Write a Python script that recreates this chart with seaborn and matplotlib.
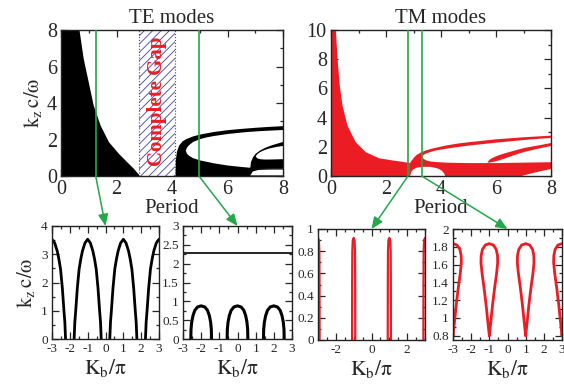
import numpy as np
import pandas as pd
import matplotlib.pyplot as plt
import seaborn as sns
from matplotlib.patches import ConnectionPatch
from matplotlib.ticker import MultipleLocator, FormatStrFormatter

# ---------------- TE band map (Period vs k_z c/w) ----------------
te_b1_x = [0, 0.65, 0.80, 0.98, 1.16, 1.41, 1.71, 2.07, 2.37, 2.61, 2.79, 2.85]
te_b1_top = [8, 8, 6.45, 5.17, 3.89, 2.79, 1.88, 1.24, 0.78, 0.42, 0.10, 0]

te_b2_x = [4.11, 4.12, 4.16, 4.24, 4.36, 4.5, 4.75, 5.0, 5.5, 6.0, 6.5, 7.0, 7.5, 8.0]
te_b2_top = [0, 0.9, 1.35, 1.7, 1.92, 2.05, 2.2, 2.3, 2.44, 2.54, 2.61, 2.67, 2.72, 2.76]

te_hole_x = [4.48, 4.52, 4.6, 4.75, 5.0, 5.25, 5.5, 6.0, 6.5, 6.8, 7.2, 7.6, 8.0]
te_hole_top = [1.42, 1.58, 1.72, 1.9, 2.05, 2.15, 2.22, 2.33, 2.41, 2.45, 2.49, 2.52, 2.55]
te_hole_bot = [1.42, 1.25, 1.13, 1.0, 0.88, 0.8, 0.72, 0.6, 0.52, 0.48, 0.45, 0.43, 0.42]

te_s2_x = [6.8, 6.83, 6.9, 7.0, 7.15, 7.35, 7.6, 8.0]
te_s2_top = [0.45, 0.8, 1.05, 1.25, 1.42, 1.58, 1.72, 1.9]
te_s2_bot = [0.45, 0.42, 0.42, 0.42, 0.42, 0.42, 0.42, 0.42]

te_s2hole_x = [7.0, 7.05, 7.15, 7.3, 7.5, 7.75, 8.0]
te_s2hole_top = [1.1, 1.22, 1.33, 1.44, 1.54, 1.62, 1.68]
te_s2hole_bot = [1.1, 1.0, 0.95, 0.93, 0.93, 0.94, 0.95]

te_gap_x = [6.8, 6.9, 7.1, 7.5, 8.0]
te_gap_lo = [0.06, 0.06, 0.06, 0.06, 0.06]
te_gap_hi = [0.06, 0.28, 0.36, 0.38, 0.38]

te_complete_gap = (2.81, 4.10)
te_cuts = [1.25, 4.97]

# ---------------- TM band map ----------------
tm_b1_x = [0, 0.16, 0.22, 0.30, 0.40, 0.58, 0.88, 1.25, 1.73, 2.22, 2.6, 2.85]
tm_b1_top = [10, 10, 8.06, 6.23, 4.86, 3.49, 2.35, 1.66, 1.25, 1.10, 1.0, 0.92]

tm_b2_x = [2.85, 2.9, 3.0, 3.1, 3.25, 3.45, 3.7, 4.16, 4.6, 5.0, 5.4, 6.0, 7.0, 8.0]
tm_b2_top = [0.92, 1.05, 1.3, 1.48, 1.65, 1.8, 1.93, 2.12, 2.26, 2.35, 2.43, 2.55, 2.69, 2.8]

tm_hole_x = [3.3, 3.35, 3.45, 3.6, 3.8, 4.16, 4.6, 5.0, 5.5, 6.0, 7.0, 8.0]
tm_hole_top = [1.35, 1.48, 1.58, 1.68, 1.78, 1.9, 2.02, 2.12, 2.22, 2.32, 2.5, 2.65]
tm_hole_bot = [1.35, 1.2, 1.1, 1.03, 0.99, 0.95, 0.93, 0.92, 0.92, 0.92, 0.95, 0.98]

tm_s2_x = [5.67, 5.72, 5.8, 5.95, 6.15, 6.4, 6.7, 7.0, 7.5, 8.0]
tm_s2_outer = [0.95, 1.1, 1.22, 1.36, 1.5, 1.64, 1.8, 1.95, 2.12, 2.3]
tm_s2_inner = [0.95, 0.95, 0.97, 1.03, 1.14, 1.3, 1.5, 1.68, 1.9, 2.1]

tm_dome_x = [2.86, 2.9, 2.98, 3.1, 3.3, 3.6, 3.85, 4.0, 4.1, 4.14]
tm_dome_top = [0, 0.32, 0.5, 0.6, 0.66, 0.66, 0.56, 0.42, 0.2, 0]

tm_wedge_x = [6.85, 7.2, 7.6, 8.0]
tm_wedge_top = [0, 0.18, 0.36, 0.52]

tm_cuts = [2.80, 3.30]

# ---------------- dispersion cuts (K_b/pi vs k_z c/w) ----------------
b1_arch_dx = [-0.76, -0.72, -0.67, -0.58, -0.48, -0.38, -0.29, -0.15, 0,
              0.15, 0.29, 0.38, 0.48, 0.58, 0.67, 0.72, 0.76]
b1_arch_y = [0, 0.6, 1.0, 1.8, 2.47, 2.85, 3.12, 3.4, 3.53,
             3.4, 3.12, 2.85, 2.47, 1.8, 1.0, 0.6, 0]
b1_centers = [-3, -1, 1, 3]

b2_arch_dx = [-0.57, -0.56, -0.52, -0.45, -0.35, -0.2, 0, 0.2, 0.35, 0.45, 0.52, 0.56, 0.57]
b2_arch_y = [0, 0.25, 0.45, 0.62, 0.76, 0.85, 0.88, 0.85, 0.76, 0.62, 0.45, 0.25, 0]
b2_centers = [-2, 0, 2]
b2_flat_x = [-3, 3]
b2_flat_y = [2.28, 2.28]

b3_spike_dx = [-0.09, -0.085, -0.075, -0.05, 0, 0.05, 0.075, 0.085, 0.09]
b3_spike_y = [0, 0.5, 0.8, 0.9, 0.92, 0.9, 0.8, 0.5, 0]
b3_centers = [-3, -1, 1, 3]

b4_loop_dx = [0, 0.08, 0.18, 0.3, 0.4, 0.46, 0.45, 0.38, 0.22, 0,
              -0.22, -0.38, -0.45, -0.46, -0.4, -0.3, -0.18, -0.08, 0]
b4_loop_y = [0.8, 0.95, 1.15, 1.35, 1.5, 1.62, 1.7, 1.77, 1.82, 1.835,
             1.82, 1.77, 1.7, 1.62, 1.5, 1.35, 1.15, 0.95, 0.8]
b4_centers = [-3, -1, 1, 3]

BLACK = '#000000'
RED = '#ec1c24'
GREEN = '#22a84a'
HATCH = '#4040a0'

sns.set_theme(style='ticks')
plt.rcParams['font.family'] = ['Liberation Serif', 'DejaVu Serif']
plt.rcParams['mathtext.fontset'] = 'stix'
plt.rcParams['axes.unicode_minus'] = False
plt.rcParams['hatch.linewidth'] = 0.6
plt.rcParams['axes.linewidth'] = 1.0

fig = plt.figure(figsize=(5.64, 3.88), dpi=100)
W, H = 564, 388


def add_ax(l, r, t, b):
    return fig.add_axes([l / W, (H - b) / H, (r - l) / W, (b - t) / H])


ax_te = add_ax(61, 283, 30, 176)
ax_tm = add_ax(331, 551, 30, 176)
ax_b1 = add_ax(52, 159, 226, 339)
ax_b2 = add_ax(183, 292, 226, 339)
ax_b3 = add_ax(318, 425, 229, 340)
ax_b4 = add_ax(453, 562, 229, 340)


def style(ax, size, major=5, minor=2.5):
    ax.tick_params(which='both', direction='in', top=True, right=True,
                   labelsize=size, pad=3, width=0.9)
    ax.tick_params(which='major', length=major)
    ax.tick_params(which='minor', length=minor)
    for s in ax.spines.values():
        s.set_color('#222222')


# ---- TE panel ----
ax = ax_te
ax.fill_between(te_b1_x, 0, te_b1_top, color=BLACK, lw=0)
ax.fill_between(te_b2_x, 0, te_b2_top, color=BLACK, lw=0)
ax.fill_between(te_hole_x, te_hole_bot, te_hole_top, color='white', lw=0)
ax.fill_between(te_s2_x, te_s2_bot, te_s2_top, color=BLACK, lw=0)
ax.fill_between(te_s2hole_x, te_s2hole_bot, te_s2hole_top, color='white', lw=0)
ax.fill_between(te_gap_x, te_gap_lo, te_gap_hi, color='white', lw=0)
ax.axvspan(*te_complete_gap, facecolor='white', edgecolor=HATCH, hatch='////',
           lw=0, zorder=1.5)
for xv in te_complete_gap:
    ax.axvline(xv, color=HATCH, lw=0.8, ls=':', zorder=1.6)
ax.text(sum(te_complete_gap) / 2, 4.1, 'Complete Gap', rotation=90, color=RED,
        fontsize=15, fontweight='bold', ha='center', va='center', zorder=4)
for xv in te_cuts:
    ax.axvline(xv, color=GREEN, lw=1.2, zorder=3)
ax.set_xlim(0, 8)
ax.set_ylim(0, 8)
ax.xaxis.set_major_locator(MultipleLocator(2))
ax.xaxis.set_minor_locator(MultipleLocator(1))
ax.yaxis.set_major_locator(MultipleLocator(2))
ax.yaxis.set_minor_locator(MultipleLocator(1))
style(ax, 14.5)
ax.set_title('TE modes', fontsize=15, pad=5)
ax.set_xlabel('Period', fontsize=15, labelpad=0)
ax.set_ylabel(r'$\mathrm{k_z\,c/\omega}$', fontsize=15, labelpad=2)

# ---- TM panel ----
ax = ax_tm
ax.fill_between(tm_b1_x, 0, tm_b1_top, color=RED, lw=0)
ax.fill_between(tm_b2_x, 0, tm_b2_top, color=RED, lw=0)
ax.fill_between(tm_hole_x, tm_hole_bot, tm_hole_top, color='white', lw=0)
ax.fill_between(tm_s2_x, tm_s2_inner, tm_s2_outer, color=RED, lw=0)
ax.fill_between(tm_dome_x, 0, tm_dome_top, color='white', lw=0)
ax.fill_between(tm_wedge_x, 0, tm_wedge_top, color='white', lw=0)
for xv in tm_cuts:
    ax.axvline(xv, color=GREEN, lw=1.2, zorder=3)
ax.set_xlim(0, 8)
ax.set_ylim(0, 10)
ax.xaxis.set_major_locator(MultipleLocator(2))
ax.xaxis.set_minor_locator(MultipleLocator(1))
ax.yaxis.set_major_locator(MultipleLocator(2))
ax.yaxis.set_minor_locator(MultipleLocator(1))
style(ax, 14.5)
ax.set_title('TM modes', fontsize=15, pad=5)
ax.set_xlabel('Period', fontsize=15, labelpad=0)


# ---- bottom panels ----
def shapes(dx, y, centers):
    rows = []
    for i, c in enumerate(centers):
        for a, b in zip(dx, y):
            rows.append({'x': c + a, 'y': b, 'unit': i})
    return pd.DataFrame(rows)


sns.lineplot(data=shapes(b1_arch_dx, b1_arch_y, b1_centers), x='x', y='y',
             units='unit', estimator=None, sort=False, color=BLACK, lw=2,
             ax=ax_b1, legend=False)
sns.lineplot(data=shapes(b2_arch_dx, b2_arch_y, b2_centers), x='x', y='y',
             units='unit', estimator=None, sort=False, color=BLACK, lw=2.2,
             ax=ax_b2, legend=False)
sns.lineplot(x=b2_flat_x, y=b2_flat_y, color=BLACK, lw=1.2, ax=ax_b2)
sns.lineplot(data=shapes(b3_spike_dx, b3_spike_y, b3_centers), x='x', y='y',
             units='unit', estimator=None, sort=False, color=RED, lw=1.6,
             ax=ax_b3, legend=False)
sns.lineplot(data=shapes(b4_loop_dx, b4_loop_y, b4_centers), x='x', y='y',
             units='unit', estimator=None, sort=False, color=RED, lw=2,
             ax=ax_b4, legend=False)

limits = {ax_b1: (0, 4, 1, 0.5), ax_b2: (0, 3, 0.5, 0.25),
          ax_b3: (0, 1, 0.2, 0.1), ax_b4: (0.75, 2, 0.2, 0.1)}
for ax, (lo, hi, ymaj, ymin) in limits.items():
    ax.set_xlim(-3, 3)
    ax.set_ylim(lo, hi)
    ax.xaxis.set_major_locator(MultipleLocator(2 if ax is ax_b3 else 1))
    ax.xaxis.set_minor_locator(MultipleLocator(0.5))
    ax.yaxis.set_major_locator(MultipleLocator(ymaj))
    ax.yaxis.set_minor_locator(MultipleLocator(ymin))
    ax.xaxis.set_major_formatter(FormatStrFormatter('%g'))
    ax.yaxis.set_major_formatter(FormatStrFormatter('%g'))
    style(ax, 9.5, major=5, minor=2.5)
    ax.set_xlabel(r'$\mathrm{K_b/\pi}$', fontsize=15.5, labelpad=1)
    ax.set_ylabel('')
ax_b1.set_ylabel(r'$\mathrm{k_z\,c/\omega}$', fontsize=15, labelpad=3)

# ---- green connectors ----
links = [(ax_te, te_cuts[0], ax_b1, 4), (ax_te, te_cuts[1], ax_b2, 3),
         (ax_tm, tm_cuts[0], ax_b3, 1), (ax_tm, tm_cuts[1], ax_b4, 2)]
for top, xv, bot, ytop in links:
    con = ConnectionPatch(xyA=(xv, 0), coordsA=top.transData,
                          xyB=(0, ytop), coordsB=bot.transData,
                          arrowstyle='-|>,head_length=0.7,head_width=0.3',
                          color=GREEN, lw=1.1, mutation_scale=10)
    fig.add_artist(con)

fig.savefig('out.png', dpi=100)
